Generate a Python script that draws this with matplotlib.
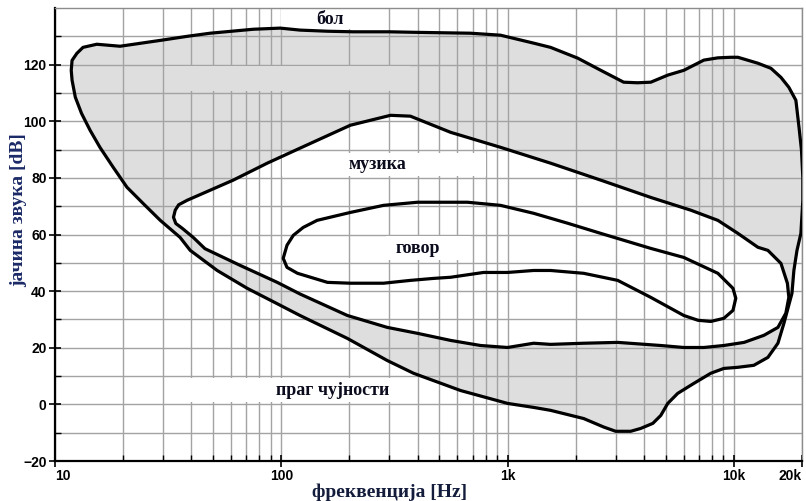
import matplotlib.pyplot as plt

plt.rcParams["font.family"] = ["Liberation Sans", "DejaVu Sans"]

# hearing area: pain threshold on top, threshold of hearing at the bottom
outer_f = [11.9, 11.8, 11.9, 12.5, 13.3, 15.3, 19.4, 29.4, 38.4, 48.5, 75.2, 99,
           121, 160, 208, 300, 400, 686, 931, 1303, 1549, 2041, 2582, 3259, 3750,
           4294, 5105, 6010, 7370, 8500, 9700, 10420, 12770, 14590, 16150, 17500,
           18800, 19400, 19900, 20180, 20180, 19780, 19010, 18420, 18060, 16640,
           15660, 14140, 12250, 10420, 9030, 7910, 6650, 5650, 5105, 4755, 4385,
           3875, 3500, 3005, 2660, 2170, 1549, 1303, 1000, 620, 384, 294, 196,
           121, 99, 70.7, 52.1, 39.6, 35.7, 29.2, 24.5, 20.8, 18.1, 15.8, 14.3,
           13.1, 12.3]
outer_db = [114.5, 118.0, 121.5, 124.0, 126.1, 127.2, 126.5, 128.6, 130.0, 131.1,
            132.5, 132.9, 132.2, 131.8, 131.6, 131.6, 131.4, 131.1, 130.4, 127.6,
            126.1, 122.3, 118.0, 113.8, 113.6, 113.8, 116.3, 118.0, 121.6, 122.4,
            122.6, 122.6, 120.5, 118.7, 115.5, 112.0, 107.4, 98.0, 89.8, 80.0,
            72.1, 60.4, 54.4, 47.3, 39.2, 28.6, 21.6, 16.6, 13.8, 13.1, 12.7, 11.0,
            7.4, 3.9, 0.35, -3.9, -6.7, -8.5, -9.5, -9.5, -8.0, -5.0, -2.1, -1.06,
            0.35, 4.9, 11.0, 15.5, 23.3, 31.4, 35.0, 41.0, 47.3, 54.4, 59.0, 65.0,
            71.0, 76.7, 83.7, 90.8, 96.8, 102.8, 108.5]

# music area
music_f = [33.4, 34.0, 35.2, 38.4, 61.3, 86.7, 121, 202, 304, 372, 560, 931, 1549,
           2582, 4294, 6450, 8500, 10420, 12770, 14140, 16150, 17240, 17500,
           16970, 15660, 13580, 11100, 9030, 7370, 6010, 4755, 3069, 2170, 1549,
           1303, 1000, 760, 560, 400, 294, 196, 121, 96, 65.8, 46.0, 40.8, 36.5,
           34.2]
music_db = [66.1, 68.6, 70.5, 72.1, 79.2, 85.2, 90.5, 98.6, 102.1, 101.8, 96.1,
            90.8, 85.2, 79.2, 73.1, 68.6, 65.0, 60.4, 55.5, 54.4, 49.8, 42.8,
            37.8, 32.2, 27.2, 24.4, 21.9, 20.8, 20.1, 20.1, 20.8, 21.9, 21.6,
            21.2, 21.6, 20.1, 20.8, 22.6, 25.1, 27.2, 31.4, 39.0, 43.1, 49.1,
            55.0, 59.0, 62.2, 63.9]

# speech area
speech_f = [102, 106, 113, 125, 144, 202, 283, 400, 665, 931, 1303, 1841, 2582,
            4294, 6010, 8500, 9910, 10200, 9910, 9030, 7910, 6950, 6010, 4294,
            3069, 2170, 1549, 1303, 1000, 783, 560, 471, 372, 283, 202, 160, 118,
            106]
speech_db = [51.6, 56.2, 59.7, 62.5, 65.0, 67.8, 70.3, 71.4, 71.4, 70.3, 67.5,
             64.0, 60.4, 55.1, 51.9, 46.3, 41.0, 37.5, 33.2, 30.4, 29.3, 29.7,
             31.4, 37.8, 43.8, 46.3, 47.3, 47.3, 46.6, 46.6, 44.9, 44.5, 43.8,
             42.8, 42.8, 43.1, 46.3, 48.4]

x_ticks = [10, 100, 1000, 10000, 20000]
x_ticklabels = ["10", "100", "1k", "10k", "20k"]
x_minor = [20, 30, 40, 50, 60, 70, 80, 90, 200, 300, 400, 500, 600, 700, 800,
           900, 2000, 3000, 4000, 5000, 6000, 7000, 8000, 9000]
y_ticks = [-20, 0, 20, 40, 60, 80, 100, 120]
y_minor = [-10, 10, 30, 50, 70, 90, 110, 130]

GRAY = "#dedede"
SERIF = ["Liberation Serif", "DejaVu Serif"]

fig = plt.figure(figsize=(8.06, 5.01), dpi=100)
ax = fig.add_axes([0.0682, 0.0798, 0.9268, 0.9042])
ax.set_xscale("log")
ax.set_xlim(10, 20000)
ax.set_ylim(-20, 140)

# filled areas (below the grid)
ax.fill(outer_f, outer_db, facecolor=GRAY, edgecolor="none", zorder=1)
ax.fill(music_f, music_db, facecolor="white", edgecolor="none", zorder=1.1)
ax.fill(speech_f, speech_db, facecolor="white", edgecolor="none", zorder=1.2)

ax.set_axisbelow("line")
ax.set_xticks(x_ticks)
ax.set_xticklabels(x_ticklabels)
ax.set_xticks(x_minor, minor=True)
ax.set_yticks(y_ticks)
ax.set_yticks(y_minor, minor=True)
ax.xaxis.set_minor_formatter(plt.NullFormatter())
ax.grid(True, which="both", color="#a3a3a3", linewidth=1.0)

# patches left over from removed labels in the source picture
ax.fill_between([30.5, 370], 110.6, 119.4, color=GRAY, lw=0, zorder=1.8)
ax.fill_between([100, 294], 132.5, 140, color="white", lw=0, zorder=1.8)
ax.fill_between([101, 800], 80.5, 88.7, color="white", lw=0, zorder=1.8)
ax.fill_between([290, 690], 51.0, 59.3, color="white", lw=0, zorder=1.8)
ax.fill_between([38, 335], 0.8, 9.4, color="white", lw=0, zorder=1.8)

# outlines
for f, db in [(outer_f, outer_db), (music_f, music_db), (speech_f, speech_db)]:
    ax.fill(f, db, facecolor="none", edgecolor="black", lw=2.3,
            joinstyle="round", zorder=3)

txt = dict(family=SERIF, fontweight="bold", fontsize=13, color="#0b0b1e",
           ha="center", va="center", zorder=4)
ax.text(165, 135.8, "бол", **txt)
ax.text(266, 84.8, "музика", **txt)
ax.text(403, 54.9, "говор", **txt)
ax.text(168, 4.8, "праг чујности", **txt)

for side in ["top", "right"]:
    ax.spines[side].set_color("#8c8c8c")
    ax.spines[side].set_linewidth(1.0)
for side in ["left", "bottom"]:
    ax.spines[side].set_color("black")
    ax.spines[side].set_linewidth(1.6)

ax.tick_params(which="major", direction="inout", length=8, width=1.2,
               labelsize=10, pad=2)
ax.tick_params(which="minor", direction="in", length=4, width=1.0)
ax.tick_params(axis="x", which="both", top=False)
ax.tick_params(axis="y", which="both", right=False)
for lab in ax.get_xticklabels() + ax.get_yticklabels():
    lab.set_fontweight("bold")
xl = ax.get_xticklabels()
xl[0].set_ha("left")
xl[-1].set_ha("right")

fig.text(390 / 806, 1 - 492 / 501, "фреквенција [Hz]", family=SERIF,
         fontweight="bold", fontsize=14, color="#141c3c", ha="center", va="center")
fig.text(19 / 806, 1 - 210 / 501, "јачина звука [dB]", family=SERIF,
         fontweight="bold", fontsize=14, color="#1b2a66", ha="center",
         va="center", rotation=90)

fig.savefig("out.png", dpi=100)
